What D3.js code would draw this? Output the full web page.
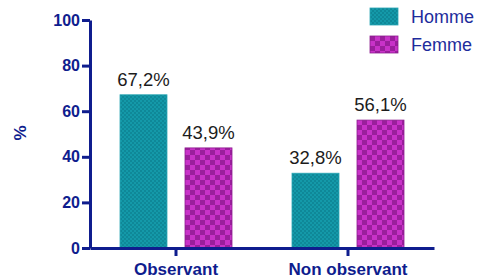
<!DOCTYPE html>
<html>
<head>
<meta charset="utf-8">
<script src="https://cdn.jsdelivr.net/npm/d3@7"></script>
<style>
  html, body { margin: 0; padding: 0; background: #fff; }
  svg { display: block; font-family: Arial, "Liberation Sans", sans-serif; }
</style>
</head>
<body>
<svg id="chart" width="478" height="280"></svg>
<script>
const categories = ["Observant", "Non observant"];
const series = ["Homme", "Femme"];
const hommeValues = [67.2, 32.8];
const femmeValues = [43.9, 56.1];
const valueLabels = [["67,2%", "43,9%"], ["32,8%", "56,1%"]];
const yTicks = [0, 20, 40, 60, 80, 100];
const yLabel = "%";

const axisColor = "#0f1d8e";
const svg = d3.select("#chart");
const defs = svg.append("defs");

// Homme: fine teal checker
const pH = defs.append("pattern").attr("id", "patH").attr("patternUnits", "userSpaceOnUse")
  .attr("width", 4).attr("height", 4);
pH.append("rect").attr("width", 4).attr("height", 4).attr("fill", "#1499a9");
pH.append("rect").attr("width", 2).attr("height", 2).attr("fill", "#0f8898");
pH.append("rect").attr("x", 2).attr("y", 2).attr("width", 2).attr("height", 2).attr("fill", "#0f8898");

// Femme: coarser magenta checker
const pF = defs.append("pattern").attr("id", "patF").attr("patternUnits", "userSpaceOnUse")
  .attr("width", 10).attr("height", 10);
pF.append("rect").attr("width", 10).attr("height", 10).attr("fill", "#c832c8");
pF.append("rect").attr("width", 5).attr("height", 5).attr("fill", "#9a1f9c");
pF.append("rect").attr("x", 5).attr("y", 5).attr("width", 5).attr("height", 5).attr("fill", "#9a1f9c");

const fills = { Homme: "url(#patH)", Femme: "url(#patF)" };
const strokes = { Homme: "#2aa6b4", Femme: "#8c1c8e" };

const x0 = d3.scaleBand().domain(categories).range([90, 434]).padding(0);
const bw = x0.bandwidth();
const x1 = d3.scaleBand().domain(series).range([bw / 2 - 56, bw / 2 + 56]).paddingInner(0.277).paddingOuter(0);
const y = d3.scaleLinear().domain([0, 100]).range([248, 20]);

const data = categories.map((c, i) => ({
  cat: c,
  vals: [
    { s: "Homme", v: hommeValues[i], label: valueLabels[i][0] },
    { s: "Femme", v: femmeValues[i], label: valueLabels[i][1] }
  ]
}));

const groups = svg.append("g").selectAll("g").data(data).join("g")
  .attr("transform", d => `translate(${x0(d.cat)},0)`);

groups.selectAll("rect").data(d => d.vals).join("rect")
  .attr("x", d => x1(d.s))
  .attr("y", d => y(d.v))
  .attr("width", x1.bandwidth())
  .attr("height", d => y(0) - y(d.v))
  .attr("fill", d => fills[d.s])
  .attr("stroke", d => strokes[d.s])
  .attr("stroke-width", 0.8);

groups.selectAll("text.val").data(d => d.vals).join("text")
  .attr("class", "val")
  .attr("x", d => x1(d.s) + x1.bandwidth() / 2)
  .attr("y", d => y(d.v) - 9)
  .attr("text-anchor", "middle")
  .attr("font-size", 18.5)
  .attr("fill", "#1c1c1c")
  .text(d => d.label);

// Y axis
const yAxis = svg.append("g").attr("transform", "translate(90,0)")
  .call(d3.axisLeft(y).tickValues(yTicks).tickSize(8).tickPadding(2).tickSizeOuter(0));
yAxis.select(".domain").attr("stroke", axisColor).attr("stroke-width", 3);
yAxis.selectAll(".tick line").attr("stroke", axisColor).attr("stroke-width", 3);
yAxis.selectAll(".tick text").attr("fill", axisColor).attr("font-size", 16)
  .attr("font-weight", "bold").attr("font-family", "Arial, 'Liberation Sans', sans-serif");

// X axis
const xAxis = svg.append("g").attr("transform", "translate(0,248)")
  .call(d3.axisBottom(x0).tickSize(8).tickPadding(7).tickSizeOuter(0));
xAxis.select(".domain").attr("stroke", axisColor).attr("stroke-width", 3);
xAxis.selectAll(".tick line").attr("stroke", axisColor).attr("stroke-width", 3);
xAxis.selectAll(".tick text").attr("fill", axisColor).attr("font-size", 17)
  .attr("font-weight", "bold").attr("font-family", "Arial, 'Liberation Sans', sans-serif");

// Y label
svg.append("text")
  .attr("transform", "translate(26,133) rotate(-90)")
  .attr("text-anchor", "middle")
  .attr("font-size", 17)
  .attr("font-weight", "bold")
  .attr("fill", axisColor)
  .text(yLabel);

// Legend
const legend = svg.append("g");
series.forEach((s, i) => {
  const g = legend.append("g").attr("transform", `translate(370,${8 + i * 28})`);
  g.append("rect").attr("width", 28).attr("height", 17)
    .attr("fill", fills[s]).attr("stroke", strokes[s]).attr("stroke-width", 0.8);
  g.append("text").attr("x", 41).attr("y", 15)
    .attr("font-size", 18).attr("fill", "#1e2c9c").text(s);
});
</script>
</body>
</html>
